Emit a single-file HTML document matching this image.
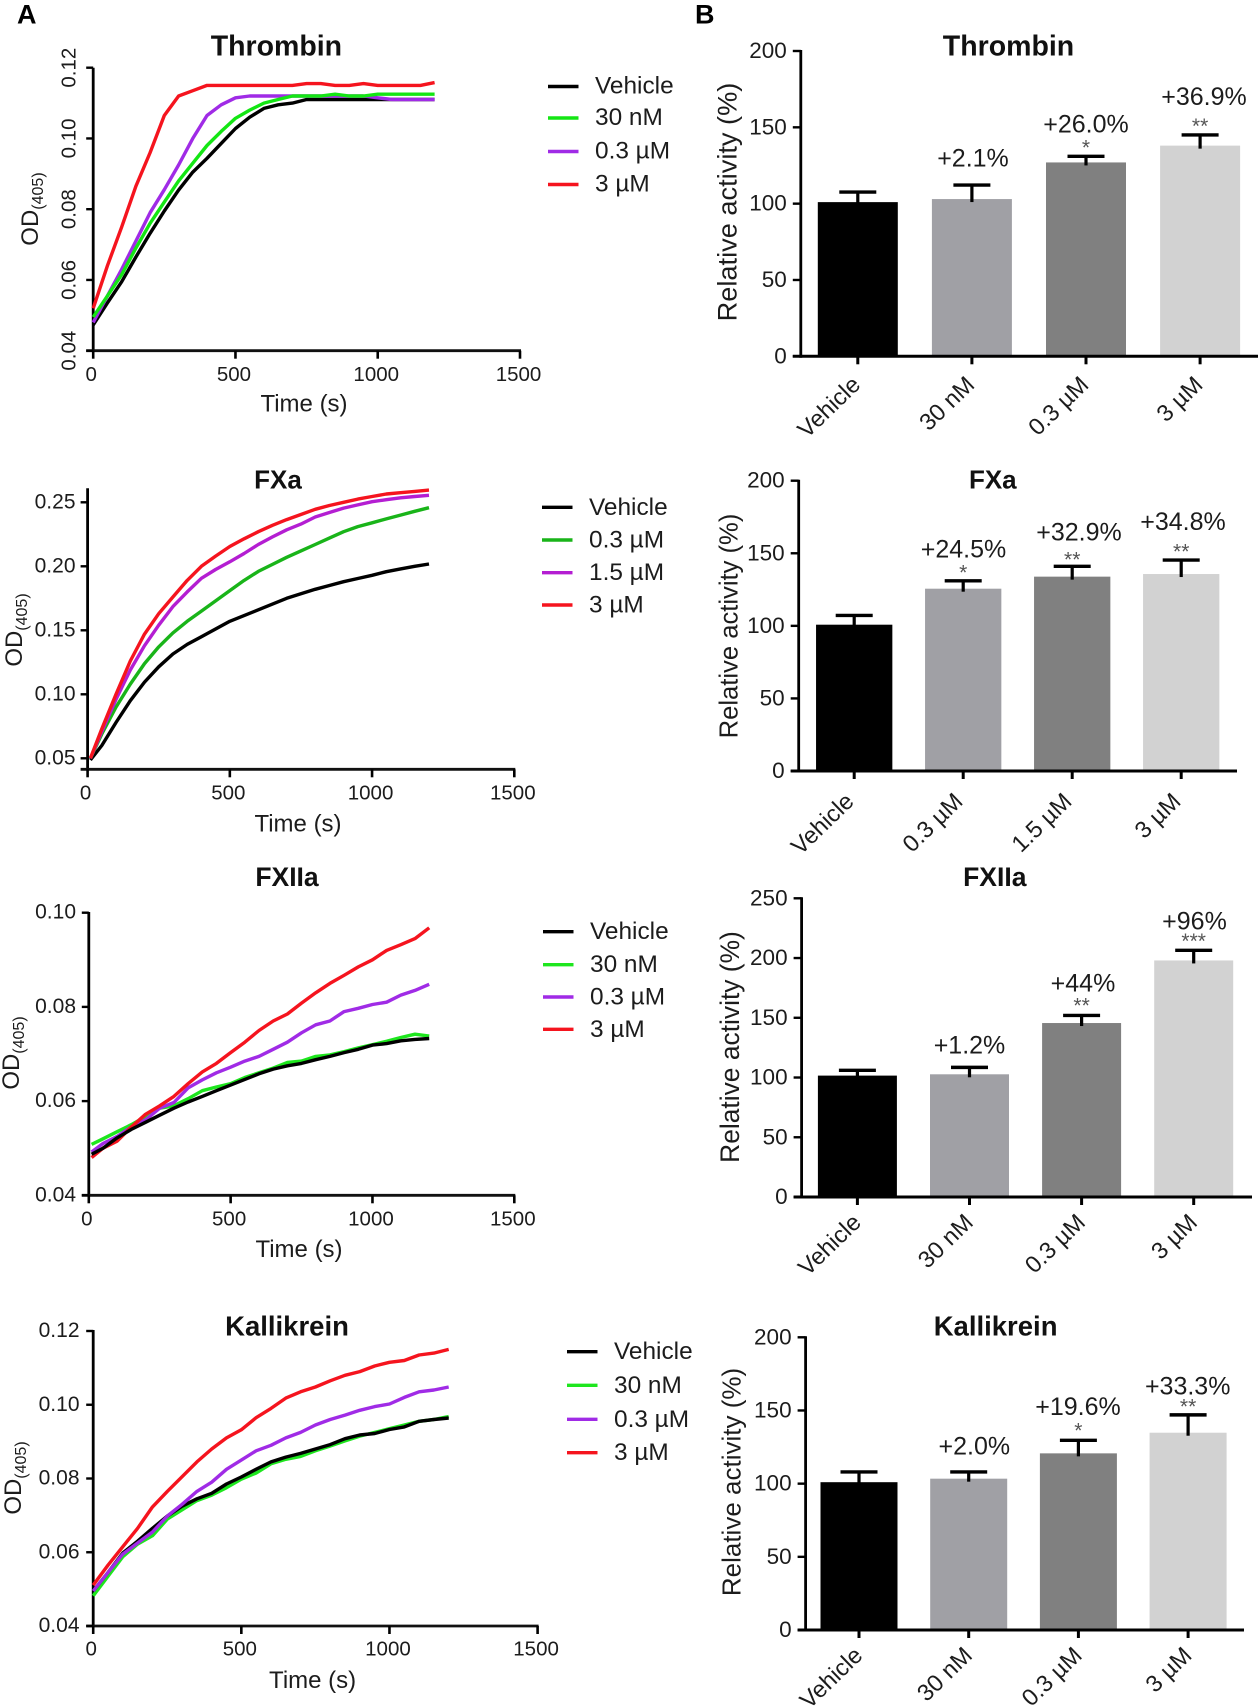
<!DOCTYPE html>
<html lang="en">
<head>
<meta charset="utf-8">
<title>Coagulation factor activity panels</title>
<style>
html,body{margin:0;padding:0;background:#fff;}
body{width:1259px;height:1708px;overflow:hidden;}
svg{display:block;filter:blur(0.35px);}
text{font-family:"Liberation Sans",Arial,sans-serif;fill:#1c1c1c;}
</style>
</head>
<body>
<svg id="figure" xmlns="http://www.w3.org/2000/svg" width="1259" height="1708" viewBox="0 0 1259 1708"></svg>
<script>
// ---------- Thrombin kinetics ----------
const thrombinTime = [0,50,100,150,200,250,300,350,400,450,500,550,600,650,700,750,800,850,900,950,1000,1050,1100,1150,1200];
const thrombinVehicle = [.0473,.0535,.0595,.0665,.0732,.0795,.0854,.0905,.0944,.0986,.1028,.106,.1085,.1095,.110,.111,.111,.111,.111,.111,.111,.111,.111,.111,.111];
const thrombin30nM = [.0495,.0555,.0615,.069,.076,.082,.088,.093,.098,.102,.1057,.108,.110,.111,.112,.112,.112,.1125,.112,.112,.1125,.1125,.1125,.1125,.1125];
const thrombin03uM = [.048,.0555,.063,.071,.079,.0855,.0925,.1,.1065,.1095,.1115,.112,.112,.112,.112,.112,.112,.112,.112,.112,.1115,.111,.111,.111,.111];
const thrombin3uM = [.052,.064,.075,.0865,.096,.1065,.112,.1135,.115,.115,.115,.115,.115,.115,.115,.1155,.1155,.115,.115,.1155,.115,.115,.115,.115,.1158];
const thrombinYTicks = ['0.04','0.06','0.08','0.10','0.12'];

// ---------- FXa kinetics ----------
const fxaTime = [10,50,100,150,200,250,300,350,400,450,500,550,600,650,700,750,800,850,900,950,1000,1050,1100,1150,1200];
const fxaVehicle = [.0487,.06,.078,.095,.1095,.1215,.1315,.139,.145,.151,.157,.1615,.166,.1705,.175,.1785,.182,.185,.188,.1905,.193,.1958,.198,.2,.2018];
const fxa03uM = [.05,.069,.09,.108,.124,.137,.148,.157,.165,.173,.181,.189,.196,.2015,.207,.212,.217,.222,.227,.231,.234,.237,.240,.243,.2458];
const fxa15uM = [.05,.071,.096,.119,.138,.154,.1685,.18,.1906,.1975,.2035,.21,.217,.223,.2285,.233,.2385,.242,.2455,.248,.2505,.252,.2535,.2545,.2555];
const fxa3uM = [.05,.073,.1,.126,.147,.163,.176,.189,.2,.208,.2155,.2215,.227,.232,.2365,.2405,.2445,.2475,.25,.2525,.2545,.2565,.2575,.2585,.2595];
const fxaYTicks = ['0.05','0.10','0.15','0.20','0.25'];

// ---------- FXIIa kinetics ----------
const fxiiaTime = [10,50,100,150,200,250,300,350,400,450,500,550,600,650,700,750,800,850,900,950,1000,1050,1100,1150,1200];
const fxiiaVehicle = [.0487,.05,.0522,.054,.0555,.057,.0585,.0598,.061,.0622,.0634,.0646,.0658,.0668,.0675,.068,.0688,.0695,.0703,.071,.0719,.0722,.0728,.0731,.0733];
const fxiia30nM = [.0508,.052,.0535,.055,.0567,.0585,.059,.0605,.0622,.063,.0637,.065,.066,.067,.0682,.0685,.0695,.0698,.0705,.0713,.072,.0727,.0735,.0742,.0738];
const fxiia03uM = [.0492,.051,.0525,.0545,.056,.0585,.0597,.0628,.0645,.066,.0672,.0685,.0695,.071,.0725,.0745,.0762,.077,.079,.0797,.0805,.081,.0825,.0835,.0848];
const fxiia3uM = [.048,.05,.0515,.0545,.0572,.059,.061,.0637,.0662,.068,.0703,.0725,.075,.077,.0785,.0808,.083,.085,.0867,.0885,.09,.092,.0932,.0945,.0968];
const fxiiaYTicks = ['0.04','0.06','0.08','0.10'];

// ---------- Kallikrein kinetics ----------
const kalTime = [0,50,100,150,200,250,300,350,400,450,500,550,600,650,700,750,800,850,900,950,1000,1050,1100,1150,1200];
const kalVehicle = [.0495,.0545,.0598,.063,.0665,.0698,.0725,.0745,.076,.0785,.0804,.0825,.0845,.0858,.0868,.088,.0892,.0908,.0918,.0922,.0933,.094,.0955,.096,.0964];
const kal30nM = [.0482,.0535,.0588,.0622,.0645,.069,.0715,.074,.0755,.0775,.0798,.0815,.084,.0852,.086,.0875,.0888,.0902,.0915,.0925,.0935,.0945,.0955,.096,.0968];
const kal03uM = [.0495,.0545,.0595,.0625,.0655,.0698,.073,.0765,.079,.0825,.085,.0875,.089,.091,.0925,.0945,.096,.0972,.0985,.0995,.1002,.102,.1035,.104,.1048];
const kal3uM = [.0511,.0565,.0615,.0665,.0723,.0765,.0805,.0845,.088,.091,.0932,.0965,.099,.1018,.1035,.1048,.1065,.108,.109,.1105,.1115,.112,.1135,.114,.115];
const kalYTicks = ['0.04','0.06','0.08','0.10','0.12'];

const timeTicks = [0,500,1000,1500];

// ---------- Bar charts ----------
const thrombinBarCats = ['Vehicle','30 nM','0.3 µM','3 µM'];
const thrombinBarMeans = [101,103,127,138];
const thrombinBarErrTops = [107.6,112.2,131,145];
const thrombinBarTicks = [0,50,100,150,200];
const thrombinChange = ['','+2.1%','+26.0%','+36.9%'];
const thrombinStars = ['','','*','**'];

const fxaBarCats = ['Vehicle','0.3 µM','1.5 µM','3 µM'];
const fxaBarMeans = [100.8,125.6,133.9,135.7];
const fxaBarErrTops = [107.2,131,141,145.3];
const fxaBarTicks = [0,50,100,150,200];
const fxaChange = ['','+24.5%','+32.9%','+34.8%'];
const fxaStars = ['','*','**','**'];

const fxiiaBarCats = ['Vehicle','30 nM','0.3 µM','3 µM'];
const fxiiaBarMeans = [101.6,102.7,145.6,198];
const fxiiaBarErrTops = [106,108.5,152,206.5];
const fxiiaBarTicks = [0,50,100,150,200,250];
const fxiiaChange = ['','+1.2%','+44%','+96%'];
const fxiiaStars = ['','','**','***'];

const kalBarCats = ['Vehicle','30 nM','0.3 µM','3 µM'];
const kalBarMeans = [101,103.4,120.7,134.8];
const kalBarErrTops = [108,108,129.6,147];
const kalBarTicks = [0,50,100,150,200];
const kalChange = ['','+2.0%','+19.6%','+33.3%'];
const kalStars = ['','','*','**'];

const barColors = ['#000000','#a0a0a5','#808080','#d2d2d2'];

const NS = 'http://www.w3.org/2000/svg';
const svg = document.getElementById('figure');

function slug(s){
  return String(s).toLowerCase().replace(/[^a-z0-9]+/g,'-').replace(/^-|-$/g,'');
}
function shape(parent, tag, attrs, name){
  const el = document.createElementNS(NS, tag);
  for(const k in attrs){ el.setAttribute(k, attrs[k]); }
  
  
  parent.appendChild(el);
  return el;
}
function line(parent,x1,y1,x2,y2,w,color,name){
  return shape(parent,'line',{x1:x1,y1:y1,x2:x2,y2:y2,stroke:color||'#000','stroke-width':w},name);
}
function label(parent,x,y,str,size,anchor,name,rot,extra){
  const attrs = {x:x,y:y,'font-size':size,'text-anchor':anchor||'middle'};
  if(rot){ attrs.transform = 'rotate('+rot+' '+x+' '+y+')'; }
  if(extra){ for(const k in extra){ attrs[k]=extra[k]; } }
  const el = shape(parent,'text',attrs,name);
  el.textContent = str;
  return el;
}
function group(name){
  const g = document.createElementNS(NS,'g');
  
  
  svg.appendChild(g);
  return g;
}
function odTitle(parent, x, yc){
  const el = shape(parent,'text',{x:x,y:yc,'font-size':24,'text-anchor':'middle',transform:'rotate(-90 '+x+' '+yc+')'},'y-axis-title');
  const a = document.createElementNS(NS,'tspan');
  a.textContent = 'OD';
  el.appendChild(a);
  const b = document.createElementNS(NS,'tspan');
  b.setAttribute('font-size','16');
  b.setAttribute('dy','5');
  b.textContent = '(405)';
  el.appendChild(b);
}

function linePanel(p){
  const g = group(p.id+'-kinetics-chart');
  const X = t => p.x0 + t*(p.x1-p.x0)/1500;
  const Y = v => p.yLow + (v-p.vLow)*(p.yHigh-p.yLow)/(p.vHigh-p.vLow);
  line(g,p.x0,p.axisTop,p.x0,p.base+1.3,2.8,'#000','y-axis-line');
  line(g,p.x0-7,p.base,p.x1+1,p.base,2.8,'#111','x-axis-line');
  timeTicks.forEach(t=>{
    line(g,X(t),p.base,X(t),p.base+8,2.6,'#000','x-tick');
    label(g,X(t)-(t===0?2:1.5),p.xLabelY,String(t),20.5,'middle','x-tick-label');
  });
  p.yTicks.forEach(s=>{
    const v = parseFloat(s);
    line(g,p.x0-7,Y(v),p.x0,Y(v),2.4,'#000','y-tick');
    if(p.rotY){
      label(g,p.yLabelX,Y(v),s,20.5,'middle','y-tick-label',-90);
    }else{
      label(g,p.yLabelX,Y(v)+6,s,21,'end','y-tick-label');
    }
  });
  label(g,p.tx,p.timeY,'Time (s)',24,'middle','x-axis-title');
  odTitle(g,p.odX,p.odY);
  label(g,p.titleX,p.titleY,p.title,p.titleSize,'middle','chart-title',0,{'font-weight':'bold',style:'fill:#111'});
  p.drawOrder.forEach(i=>{
    const s = p.series[i];
    const d = p.time.map((t,j)=>(j?'L':'M')+X(t).toFixed(1)+' '+Y(s.vals[j]).toFixed(1)).join(' ');
    shape(g,'path',{d:d,fill:'none',stroke:s.color,'stroke-width':p.lw,'stroke-linejoin':'round'},'series-line-'+slug(s.name));
  });
  p.series.forEach((s,i)=>{
    const y = p.legY[i];
    line(g,p.legX,y,p.legX+30.5,y,3.4,s.color,'legend-swatch-'+slug(s.name));
    label(g,p.legX+47,y+7.5-(p.legShift||0),s.name,24.4,'start','legend-label-'+slug(s.name));
  });
}

function barPanel(p){
  const g = group(p.id+'-activity-chart');
  const Y = v => p.base + v*(p.yTop-p.base)/p.vMax;
  const C = i => p.c0 + i*p.step;
  p.means.forEach((m,i)=>{
    line(g,C(i)-18.5,Y(p.errTops[i]),C(i)+18.5,Y(p.errTops[i]),3.4,'#000','error-cap-'+slug(p.cats[i]));
  });
  p.means.forEach((m,i)=>{
    shape(g,'rect',{x:C(i)-p.bw/2,y:Y(m),width:p.bw,height:p.base-Y(m),fill:barColors[i]},'bar-'+slug(p.cats[i]));
  });
  p.means.forEach((m,i)=>{
    line(g,C(i),Y(p.errTops[i]),C(i),Y(m)+3,3.2,'#000','error-stem-'+slug(p.cats[i]));
  });
  line(g,p.axisX,Y(p.vMax)-1,p.axisX,p.base+1.5,2.8,'#000','y-axis-line');
  line(g,p.axisX-8,p.base,p.axisEnd,p.base,3,'#000','x-axis-line');
  p.ticks.forEach(v=>{
    line(g,p.axisX-8,Y(v),p.axisX,Y(v),2.4,'#000','y-tick');
    label(g,p.axisX-14,Y(v)+7,String(v),22.5,'end','y-tick-label');
  });
  p.cats.forEach((c,i)=>{
    line(g,C(i),p.base,C(i),p.base+8,3,'#000','x-tick');
    label(g,C(i)+4+p.catDx,p.base+30+p.catDy,c,23.6,'end','category-label-'+slug(c),-44);
  });
  label(g,p.ytX,p.ytY,'Relative activity (%)',p.ytSize,'middle','y-axis-title',-90);
  label(g,p.titleX,p.titleY,p.title,p.titleSize,'middle','chart-title',0,{'font-weight':'bold',style:'fill:#111'});
  p.change.forEach((s,i)=>{
    if(s){ label(g,p.chX[i],p.chY[i],s,25,'middle','change-label-'+slug(s)); }
  });
  p.stars.forEach((s,i)=>{
    if(s){ label(g,C(i),p.stY[i]+9,s,p.starSize,'middle','significance-stars',0,{style:'fill:#555'}); }
  });
}

label(svg,17,23.5,'A',27,'start','panel-letter-a',0,{'font-weight':'bold',style:'fill:#000'});
label(svg,695,23.5,'B',27,'start','panel-letter-b',0,{'font-weight':'bold',style:'fill:#000'});

linePanel({id:'thrombin',title:'Thrombin',titleSize:28.5,titleX:276.4,titleY:55.5,time:thrombinTime,lw:3.4,
  x0:93.2,x1:520,base:350.7,axisTop:67.7,vLow:.04,yLow:350.7,vHigh:.12,yHigh:67.7,
  yTicks:thrombinYTicks,rotY:true,yLabelX:75.5,xLabelY:381,tx:304,timeY:411.7,odX:38,odY:209,
  legX:548,legY:[86.5,118,151.5,184.5],legShift:0.5,drawOrder:[0,2,1,3],
  series:[{name:'Vehicle',vals:thrombinVehicle,color:'#000'},{name:'30 nM',vals:thrombin30nM,color:'#14e614'},
          {name:'0.3 µM',vals:thrombin03uM,color:'#a02be6'},{name:'3 µM',vals:thrombin3uM,color:'#f5141e'}]
});
linePanel({id:'fxa',title:'FXa',titleSize:26,titleX:278,titleY:488.3,time:fxaTime,lw:3.4,
  x0:87.6,x1:514.3,base:769.3,axisTop:488.3,vLow:.05,yLow:758.3,vHigh:.25,yHigh:502.3,
  yTicks:fxaYTicks,rotY:false,yLabelX:75.5,xLabelY:799.5,tx:298,timeY:831.7,odX:22,odY:630,
  legX:542,legY:[507.3,540,572.7,605],drawOrder:[0,1,2,3],
  series:[{name:'Vehicle',vals:fxaVehicle,color:'#000'},{name:'0.3 µM',vals:fxa03uM,color:'#19b419'},
          {name:'1.5 µM',vals:fxa15uM,color:'#b41ed2'},{name:'3 µM',vals:fxa3uM,color:'#f5141e'}]
});
linePanel({id:'fxiia',title:'FXIIa',titleSize:26.5,titleX:287,titleY:886,time:fxiiaTime,lw:3.4,
  x0:88.8,x1:514.3,base:1195.3,axisTop:912,vLow:.04,yLow:1195.3,vHigh:.10,yHigh:912.7,
  yTicks:fxiiaYTicks,rotY:false,yLabelX:76,xLabelY:1225.5,tx:299,timeY:1257,odX:19,odY:1053,
  legX:543,legY:[931.7,964.7,997,1029.3],drawOrder:[1,2,3,0],
  series:[{name:'Vehicle',vals:fxiiaVehicle,color:'#000'},{name:'30 nM',vals:fxiia30nM,color:'#1ee61e'},
          {name:'0.3 µM',vals:fxiia03uM,color:'#a02be6'},{name:'3 µM',vals:fxiia3uM,color:'#f5141e'}]
});
linePanel({id:'kallikrein',title:'Kallikrein',titleSize:27.5,titleX:287,titleY:1335.7,time:kalTime,lw:3.4,
  x0:93.2,x1:537.6,base:1626,axisTop:1330,vLow:.04,yLow:1626,vHigh:.12,yHigh:1331,
  yTicks:kalYTicks,rotY:false,yLabelX:79.5,xLabelY:1655.5,tx:312.6,timeY:1688,odX:21,odY:1478,
  legX:567,legY:[1351.7,1385.3,1419.3,1452.7],drawOrder:[1,0,2,3],
  series:[{name:'Vehicle',vals:kalVehicle,color:'#000'},{name:'30 nM',vals:kal30nM,color:'#1ee61e'},
          {name:'0.3 µM',vals:kal03uM,color:'#a02be6'},{name:'3 µM',vals:kal3uM,color:'#f5141e'}]
});

barPanel({id:'thrombin',title:'Thrombin',titleSize:28.5,titleX:1008.5,titleY:55.5,base:356.3,yTop:51,vMax:200,axisX:800.8,axisEnd:1258,
  c0:857.8,step:114.1,bw:80,means:thrombinBarMeans,errTops:thrombinBarErrTops,cats:thrombinBarCats,ticks:thrombinBarTicks,catDx:0,catDy:0,
  change:thrombinChange,stars:thrombinStars,chX:[0,973,1086,1204],chY:[0,166.7,132.7,105],stY:[0,0,145.7,124],starSize:21,
  ytX:736.5,ytY:202,ytSize:27.2});
barPanel({id:'fxa',title:'FXa',titleSize:26,titleX:992.8,titleY:488.3,base:771,yTop:480.7,vMax:200,axisX:798.7,axisEnd:1237,
  c0:854.2,step:109,bw:76.3,means:fxaBarMeans,errTops:fxaBarErrTops,cats:fxaBarCats,ticks:fxaBarTicks,catDx:-3,catDy:2,
  change:fxaChange,stars:fxaStars,chX:[0,963.5,1079,1183],chY:[0,557.3,540.7,530],stY:[0,570.7,557.3,549.3],starSize:21,
  ytX:737.7,ytY:626,ytSize:25.6});
barPanel({id:'fxiia',title:'FXIIa',titleSize:26.5,titleX:994.8,titleY:886,base:1197,yTop:898.3,vMax:250,axisX:801.6,axisEnd:1252,
  c0:857.4,step:112.1,bw:79,means:fxiiaBarMeans,errTops:fxiiaBarErrTops,cats:fxiiaBarCats,ticks:fxiiaBarTicks,catDx:1,catDy:-3,
  change:fxiiaChange,stars:fxiiaStars,chX:[0,969.5,1083,1194.5],chY:[0,1053.3,991.7,929.3],stY:[0,0,1003.3,939],starSize:21,
  ytX:739,ytY:1047,ytSize:26.4});
barPanel({id:'kallikrein',title:'Kallikrein',titleSize:27.5,titleX:995.6,titleY:1335.7,base:1630,yTop:1337.3,vMax:200,axisX:805.6,axisEnd:1244,
  c0:859,step:109.7,bw:77,means:kalBarMeans,errTops:kalBarErrTops,cats:kalBarCats,ticks:kalBarTicks,catDx:1,catDy:-3,
  change:kalChange,stars:kalStars,chX:[0,974.3,1078,1187.7],chY:[0,1454.3,1415,1394.3],stY:[0,0,1428.3,1404.3],starSize:21,
  ytX:740.5,ytY:1482,ytSize:26});
</script>
</body>
</html>
